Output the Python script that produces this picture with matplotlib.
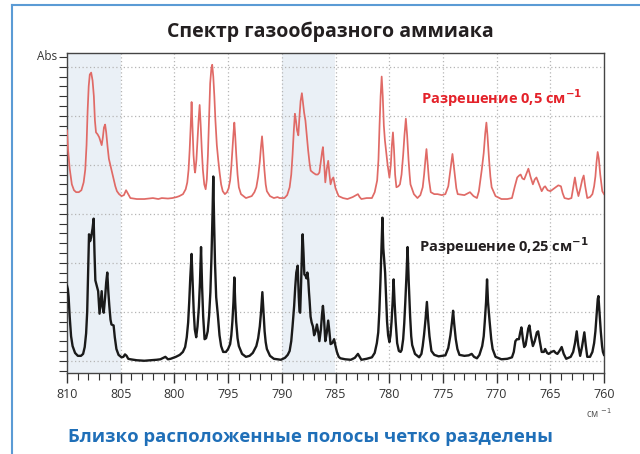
import matplotlib
matplotlib.use("Agg")
import matplotlib.pyplot as plt
from matplotlib.lines import Line2D

plt.rcParams['font.family'] = ['Open Sans', 'DejaVu Sans']

# ---- data: (wavenumber cm-1, absorbance in arbitrary units) ----
red_spectrum = [
    (810.00, 23.5), (809.90, 21.5), (809.75, 19.6), (809.55, 18.0), (809.35, 17.4),
    (809.15, 17.2), (808.90, 17.2), (808.66, 17.4), (808.45, 18.2), (808.30, 19.5),
    (808.18, 22.0), (808.08, 25.5), (807.98, 28.0), (807.88, 29.2), (807.75, 29.4),
    (807.62, 28.6), (807.50, 27.0), (807.40, 24.5), (807.30, 23.3), (807.15, 23.1),
    (807.00, 22.8), (806.88, 22.4), (806.77, 22.0), (806.66, 22.8), (806.56, 23.8),
    (806.45, 24.1), (806.35, 23.3), (806.22, 21.8), (806.10, 20.6), (805.95, 19.9),
    (805.80, 19.2), (805.65, 18.5), (805.50, 17.8), (805.35, 17.3), (805.15, 17.0),
    (804.92, 16.8), (804.70, 16.9), (804.50, 17.4), (804.35, 17.1), (804.10, 16.6),
    (803.50, 16.5), (802.80, 16.5), (802.00, 16.6), (801.50, 16.5), (801.17, 16.6),
    (800.60, 16.55), (800.19, 16.6), (799.80, 16.7), (799.54, 16.8), (799.20, 17.0),
    (798.95, 17.5), (798.80, 18.2), (798.68, 19.5), (798.58, 21.5), (798.48, 24.0),
    (798.40, 26.4), (798.32, 24.0), (798.22, 21.0), (798.12, 19.5), (798.07, 19.2),
    (797.95, 20.5), (797.85, 22.5), (797.75, 24.5), (797.65, 26.1), (797.55, 24.0),
    (797.45, 21.5), (797.35, 19.5), (797.22, 18.0), (797.09, 17.5), (796.98, 18.5),
    (796.88, 21.0), (796.78, 24.5), (796.67, 28.3), (796.56, 29.8), (796.48, 30.2),
    (796.38, 29.0), (796.28, 27.0), (796.18, 24.5), (796.05, 22.0), (795.92, 20.5),
    (795.79, 19.2), (795.65, 18.0), (795.50, 17.3), (795.30, 17.0), (795.10, 17.2),
    (794.95, 17.6), (794.81, 18.4), (794.70, 19.8), (794.60, 21.5), (794.50, 23.2),
    (794.42, 24.3), (794.34, 23.0), (794.24, 21.0), (794.12, 19.0), (794.00, 17.7),
    (793.80, 17.0), (793.34, 16.6), (792.80, 16.8), (792.55, 17.2), (792.37, 17.7),
    (792.20, 18.8), (792.05, 20.3), (791.94, 21.8), (791.84, 22.9), (791.74, 21.5),
    (791.62, 19.5), (791.50, 18.0), (791.39, 17.3), (791.10, 16.8), (790.74, 16.6),
    (790.40, 16.7), (790.20, 16.6), (789.76, 16.6), (789.50, 16.9), (789.27, 17.7),
    (789.12, 19.0), (789.00, 21.0), (788.88, 23.5), (788.78, 25.2), (788.68, 24.5),
    (788.58, 23.5), (788.46, 23.0), (788.35, 25.0), (788.25, 26.5), (788.13, 27.3),
    (788.02, 26.3), (787.92, 25.3), (787.80, 24.5), (787.68, 23.0), (787.55, 21.5),
    (787.42, 20.2), (787.31, 19.4), (787.10, 19.2), (786.83, 19.0), (786.65, 19.0),
    (786.50, 19.2), (786.35, 20.5), (786.25, 21.3), (786.17, 21.8), (786.05, 20.0),
    (785.95, 18.2), (785.82, 19.5), (785.68, 20.4), (785.56, 19.0), (785.46, 18.0),
    (785.33, 18.5), (785.20, 18.7), (785.00, 17.6), (784.71, 16.8), (784.30, 16.6),
    (783.89, 16.5), (783.40, 16.7), (782.91, 17.0), (782.75, 16.7), (782.59, 16.5),
    (782.10, 16.6), (781.61, 16.6), (781.35, 17.2), (781.12, 18.4), (781.00, 20.5),
    (780.90, 24.0), (780.80, 27.0), (780.70, 29.0), (780.60, 27.0), (780.50, 24.0),
    (780.40, 22.5), (780.31, 21.6), (780.15, 20.0), (779.98, 18.7), (779.85, 20.0),
    (779.75, 22.0), (779.65, 23.3), (779.55, 21.5), (779.45, 19.0), (779.33, 17.7),
    (779.15, 17.8), (779.00, 18.0), (778.85, 19.0), (778.70, 21.0), (778.58, 23.0),
    (778.45, 24.7), (778.33, 23.0), (778.20, 20.5), (778.10, 19.0), (778.02, 18.0),
    (777.70, 17.0), (777.37, 16.6), (777.10, 16.9), (776.88, 17.7), (776.75, 19.0),
    (776.63, 20.5), (776.53, 21.6), (776.43, 20.2), (776.30, 18.5), (776.13, 17.2),
    (775.80, 17.0), (775.50, 17.0), (775.10, 16.9), (774.77, 17.0), (774.50, 17.8),
    (774.30, 19.5), (774.18, 20.5), (774.11, 21.1), (774.02, 20.2), (773.88, 18.8),
    (773.75, 17.6), (773.62, 17.0), (773.00, 16.9), (772.48, 17.2), (772.15, 16.8),
    (771.83, 16.6), (771.65, 17.3), (771.51, 18.4), (771.38, 19.5), (771.20, 21.2),
    (771.06, 23.2), (770.95, 24.3), (770.85, 23.0), (770.70, 20.5), (770.58, 18.8),
    (770.46, 17.7), (770.10, 16.8), (769.55, 16.5), (769.00, 16.5), (768.57, 16.6),
    (768.30, 17.8), (768.08, 18.7), (767.90, 18.9), (767.76, 19.0), (767.60, 18.6),
    (767.43, 18.5), (767.25, 19.0), (767.04, 19.6), (766.85, 18.8), (766.62, 18.0),
    (766.45, 18.5), (766.29, 18.7), (766.05, 18.0), (765.80, 17.3), (765.60, 17.7),
    (765.48, 17.8), (765.25, 17.4), (764.99, 17.3), (764.75, 17.5), (764.50, 17.7),
    (764.25, 17.9), (764.01, 17.8), (763.85, 17.1), (763.68, 16.6), (763.30, 16.5),
    (763.03, 16.6), (762.88, 17.6), (762.71, 18.7), (762.55, 17.6), (762.38, 16.8),
    (762.20, 17.6), (762.02, 18.5), (761.89, 18.9), (761.75, 17.8), (761.56, 16.6),
    (761.30, 16.7), (761.08, 17.0), (760.92, 17.8), (760.80, 18.8), (760.70, 20.2),
    (760.59, 21.3), (760.48, 20.6), (760.35, 19.0), (760.16, 17.3), (760.00, 17.0),
]

black_spectrum = [
    (810.00, 7.65), (809.92, 7.3), (809.85, 6.5), (809.75, 4.5), (809.62, 2.5),
    (809.48, 1.5), (809.25, 0.8), (808.99, 0.5), (808.70, 0.5), (808.50, 0.7),
    (808.35, 1.4), (808.22, 2.8), (808.12, 5.0), (808.03, 9.0), (807.95, 12.9),
    (807.85, 12.2), (807.75, 12.6), (807.62, 13.5), (807.52, 14.5), (807.44, 11.0),
    (807.36, 8.2), (807.22, 7.6), (807.10, 7.1), (806.97, 4.8), (806.87, 6.0),
    (806.77, 7.1), (806.68, 5.5), (806.58, 4.9), (806.45, 6.5), (806.35, 8.0),
    (806.25, 9.0), (806.15, 7.0), (806.06, 5.6), (805.95, 4.2), (805.86, 3.7),
    (805.66, 3.6), (805.55, 2.4), (805.40, 1.2), (805.20, 0.6), (804.92, 0.35),
    (804.75, 0.4), (804.60, 0.65), (804.45, 0.5), (804.30, 0.2), (804.10, 0.15),
    (803.50, 0.05), (802.80, 0.0), (802.20, 0.05), (801.66, 0.1), (801.30, 0.15),
    (800.84, 0.4), (800.60, 0.15), (800.35, 0.2), (799.86, 0.4), (799.50, 0.6),
    (799.21, 0.9), (799.00, 1.4), (798.85, 2.4), (798.72, 3.9), (798.62, 6.0),
    (798.52, 8.5), (798.40, 10.9), (798.30, 8.0), (798.20, 5.0), (798.10, 3.2),
    (797.97, 2.4), (797.85, 3.5), (797.72, 5.5), (797.62, 8.0), (797.52, 11.6),
    (797.42, 7.5), (797.32, 4.5), (797.19, 2.2), (797.05, 2.3), (796.90, 3.0),
    (796.77, 4.6), (796.65, 7.0), (796.55, 10.5), (796.45, 15.0), (796.38, 18.8),
    (796.30, 14.0), (796.22, 10.0), (796.11, 6.5), (795.95, 4.6), (795.80, 2.6),
    (795.65, 1.5), (795.46, 0.9), (795.20, 0.9), (795.00, 1.2), (794.81, 1.7),
    (794.70, 2.6), (794.60, 4.0), (794.50, 6.0), (794.42, 8.5), (794.34, 6.0),
    (794.25, 4.0), (794.12, 2.3), (794.00, 1.5), (793.70, 0.7), (793.34, 0.4),
    (793.00, 0.5), (792.70, 0.8), (792.37, 1.5), (792.20, 2.3), (792.05, 3.5),
    (791.93, 5.0), (791.81, 7.0), (791.70, 5.0), (791.60, 3.0), (791.50, 1.9),
    (791.39, 1.2), (791.10, 0.5), (790.74, 0.2), (790.40, 0.15), (790.08, 0.1),
    (789.70, 0.3), (789.45, 0.6), (789.27, 1.0), (789.12, 2.0), (789.00, 3.5),
    (788.85, 5.6), (788.75, 7.5), (788.65, 9.0), (788.52, 9.7), (788.42, 6.5),
    (788.35, 5.0), (788.29, 4.9), (788.20, 8.0), (788.10, 12.0), (788.06, 12.9),
    (787.98, 11.0), (787.90, 8.8), (787.80, 8.7), (787.70, 8.4), (787.62, 9.0),
    (787.54, 8.3), (787.47, 7.0), (787.41, 6.1), (787.32, 4.5), (787.22, 3.9),
    (787.10, 3.5), (786.99, 2.6), (786.86, 3.0), (786.73, 3.7), (786.62, 3.0),
    (786.50, 2.0), (786.36, 3.2), (786.25, 4.8), (786.17, 5.6), (786.08, 4.5),
    (785.95, 2.0), (785.82, 2.8), (785.68, 4.1), (785.57, 3.0), (785.46, 1.7),
    (785.30, 1.8), (785.13, 2.2), (785.00, 1.5), (784.87, 0.9), (784.70, 0.4),
    (784.54, 0.25), (784.10, 0.15), (783.57, 0.1), (783.20, 0.3), (782.91, 0.7),
    (782.75, 0.4), (782.59, 0.1), (782.10, 0.2), (781.61, 0.35), (781.35, 0.8),
    (781.15, 1.8), (781.02, 2.9), (780.92, 5.0), (780.82, 8.0), (780.72, 11.5),
    (780.63, 14.6), (780.55, 11.5), (780.45, 10.0), (780.38, 9.0), (780.31, 7.0),
    (780.20, 4.0), (780.10, 2.6), (779.98, 1.9), (779.88, 2.6), (779.78, 4.0),
    (779.68, 6.0), (779.59, 8.3), (779.50, 6.0), (779.40, 4.0), (779.26, 1.8),
    (779.10, 1.0), (778.94, 0.9), (778.84, 1.1), (778.70, 2.2), (778.60, 3.8),
    (778.50, 6.0), (778.40, 8.5), (778.29, 11.6), (778.18, 8.0), (778.05, 4.5),
    (777.95, 2.5), (777.86, 1.6), (777.60, 0.7), (777.21, 0.35), (777.00, 0.7),
    (776.88, 1.5), (776.75, 2.7), (776.62, 4.2), (776.49, 6.0), (776.38, 4.2),
    (776.25, 2.5), (776.07, 1.0), (775.80, 0.6), (775.40, 0.45), (774.77, 0.55),
    (774.50, 1.3), (774.30, 2.6), (774.15, 4.0), (774.05, 5.1), (773.95, 3.8),
    (773.80, 2.2), (773.65, 1.2), (773.46, 0.6), (773.00, 0.5), (772.60, 0.55),
    (772.32, 0.7), (772.10, 0.4), (771.83, 0.25), (771.60, 0.6), (771.34, 1.5),
    (771.20, 2.5), (771.10, 4.0), (770.98, 6.0), (770.89, 8.3), (770.80, 6.0),
    (770.65, 4.0), (770.50, 2.2), (770.37, 1.2), (770.10, 0.4), (769.55, 0.15),
    (769.00, 0.2), (768.57, 0.35), (768.40, 0.9), (768.25, 2.0), (768.10, 2.2),
    (767.92, 2.2), (767.80, 2.9), (767.69, 3.4), (767.55, 2.2), (767.43, 1.4),
    (767.30, 1.6), (767.15, 2.6), (767.05, 3.3), (766.94, 3.6), (766.80, 2.5),
    (766.62, 1.5), (766.45, 2.0), (766.25, 2.9), (766.13, 3.0), (765.98, 2.0),
    (765.80, 0.9), (765.60, 0.9), (765.48, 1.2), (765.30, 0.8), (765.15, 0.7),
    (764.90, 0.9), (764.66, 1.0), (764.50, 0.8), (764.34, 0.7), (764.15, 1.0),
    (763.94, 1.4), (763.75, 0.7), (763.52, 0.2), (763.10, 0.4), (762.87, 0.9),
    (762.70, 1.8), (762.54, 3.0), (762.40, 1.6), (762.22, 0.5), (762.05, 1.4),
    (761.92, 2.3), (761.83, 2.9), (761.70, 1.6), (761.56, 0.4), (761.30, 0.4),
    (761.08, 0.9), (760.92, 1.8), (760.80, 3.0), (760.68, 4.8), (760.58, 6.3),
    (760.52, 6.6), (760.42, 5.0), (760.30, 3.0), (760.18, 1.5), (760.10, 0.9),
    (760.00, 0.6),
]

red_wn = [p[0] for p in red_spectrum]
red_abs = [p[1] for p in red_spectrum]
black_wn = [p[0] for p in black_spectrum]
black_abs = [p[1] for p in black_spectrum]

shaded_ranges = [(810, 805), (790, 785)]
x_major = [810, 805, 800, 795, 790, 785, 780, 775, 770, 765, 760]

title = "Спектр газообразного аммиака"
subtitle = "Близко расположенные полосы четко разделены"
label_red = "Разрешение 0,5 см$^{\\mathbf{-1}}$"
label_black = "Разрешение 0,25 см$^{\\mathbf{-1}}$"

# ---- figure ----
W, H = 640, 454
fig = plt.figure(figsize=(W / 100, H / 100), dpi=100)

# blue frame (cut off at right / bottom)
frame_c = "#5b9bd5"
fig.add_artist(Line2D([12 / W, 12 / W], [0, 1 - 5 / H], color=frame_c, lw=1.5,
                      transform=fig.transFigure))
fig.add_artist(Line2D([12 / W, 1], [1 - 5 / H, 1 - 5 / H], color=frame_c, lw=1.5,
                      transform=fig.transFigure))

ax = fig.add_axes([67 / W, 1 - 373 / H, (604 - 67) / W, (373 - 53) / H])
ax.set_xlim(810, 760)
ax.set_ylim(-1.25, 31.4)

for a, b in shaded_ranges:
    ax.axvspan(a, b, color="#eaf0f6", zorder=0, lw=0)

for x in x_major[1:-1]:
    ax.axvline(x, color="#b5b5b5", lw=0.9, ls=(0, (1, 2)), zorder=1)
for y in range(0, 31, 5):
    ax.axhline(y, color="#b5b5b5", lw=0.9, ls=(0, (1, 2)), zorder=1)

ax.plot(red_wn, red_abs, color="#e06a66", lw=1.25, zorder=3)
ax.plot(black_wn, black_abs, color="#1a1a1a", lw=1.7, zorder=3)

ax.set_xticks(x_major)
ax.set_xticks(range(760, 811), minor=True)
ax.set_yticks(range(-1, 32))
ax.set_yticklabels([])
ax.tick_params(axis="x", which="major", length=7, width=1, color="#333333",
               labelsize=9, labelcolor="#333333", pad=4)
ax.tick_params(axis="x", which="minor", length=5, width=0.8, color="#333333")
ax.tick_params(axis="y", which="major", length=6, width=0.8, color="#333333")
for s in ax.spines.values():
    s.set_color("#444444")
    s.set_linewidth(1.0)

ax.text(-0.018, 31.0, "Abs", transform=ax.get_yaxis_transform(), ha="right",
        va="center", fontsize=8.5, color="#333333")
ax.text(0.99, -0.13, "см $^{-1}$", transform=ax.transAxes, ha="center", va="center",
        fontsize=7, color="#555555")

ax.text(0.66, 0.859, label_red, transform=ax.transAxes, ha="left", va="center",
        fontsize=10.5, fontweight="bold", color="#e4222a")
ax.text(0.655, 0.397, label_black, transform=ax.transAxes, ha="left", va="center",
        fontsize=10.5, fontweight="bold", color="#231f20")

fig.text(330 / W, 1 - 32 / H, title, ha="center", va="center", fontsize=14,
         fontweight="bold", color="#231f20")
fig.text(310 / W, 1 - 437 / H, subtitle, ha="center", va="center", fontsize=13.3,
         fontweight="bold", color="#1f6fb8")

fig.savefig("out.png", dpi=100)
